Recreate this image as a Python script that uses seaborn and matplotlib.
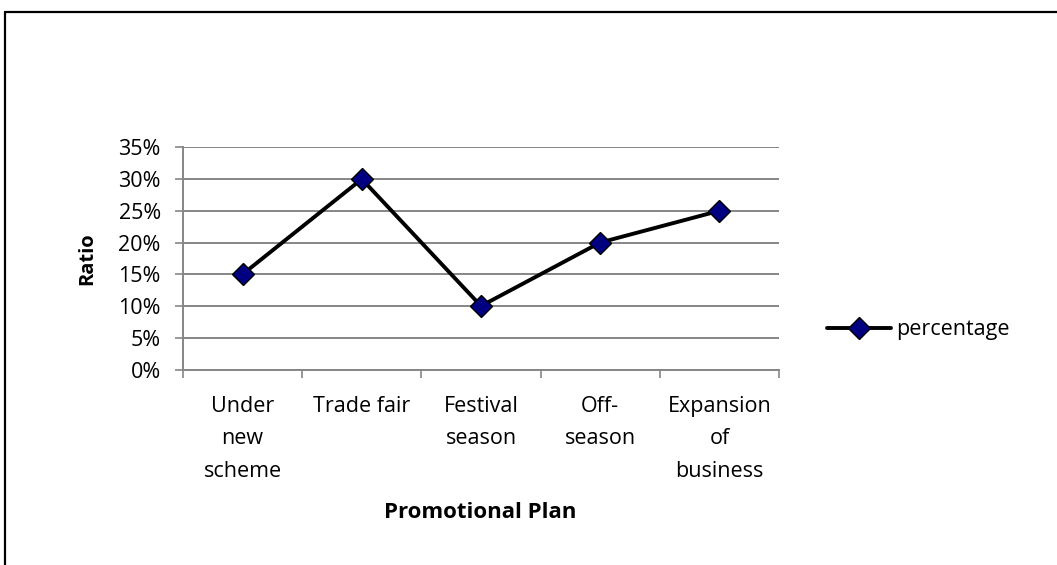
import matplotlib
matplotlib.use("Agg")
import matplotlib.pyplot as plt
from matplotlib.lines import Line2D
from matplotlib.ticker import FixedLocator, FuncFormatter
import seaborn as sns
import pandas as pd

# Promotional plan vs. share of respondents
plans = ["Under\nnew\nscheme", "Trade fair", "Festival\nseason", "Off-\nseason",
         "Expansion\nof\nbusiness"]
ratios = [0.15, 0.30, 0.10, 0.20, 0.25]
y_ticks = [0.00, 0.05, 0.10, 0.15, 0.20, 0.25, 0.30, 0.35]
series_name = "percentage"

df = pd.DataFrame({"plan": plans, "ratio": ratios, "series": series_name})

sns.set_theme(style="white")
plt.rcParams["font.family"] = ["Open Sans", "DejaVu Sans"]

GRID = "#868686"
FS = 15.5
W, H = 1057, 565
fig = plt.figure(figsize=(W / 100, H / 100), dpi=100)
ax = fig.add_axes([183 / W, 1 - 369.5 / H, 596 / W, 222.2 / H])

sns.lineplot(data=df, x="plan", y="ratio", hue="series", palette=["black"],
             marker="D", markersize=11, markerfacecolor="#000080",
             markeredgecolor="black", markeredgewidth=1.0,
             linewidth=2.8, sort=False, ax=ax, zorder=3)

n = len(plans)
ax.set_xlim(-0.5, n - 0.5)
ax.set_ylim(y_ticks[0], y_ticks[-1])

# y axis: percent ticks with horizontal gridlines
ax.yaxis.set_major_locator(FixedLocator(y_ticks))
ax.yaxis.set_major_formatter(FuncFormatter(lambda v, _: f"{round(v * 100)}%"))
ax.grid(axis="y", color=GRID, linewidth=1.4)
ax.grid(axis="x", visible=False)
ax.tick_params(axis="y", which="major", direction="out", length=6, width=1.2,
               color=GRID, pad=10, labelsize=FS, labelcolor="black", left=True)

# x axis: tick marks between categories, labels centered on categories
ax.set_xticks([i - 0.5 for i in range(n + 1)])
ax.set_xticklabels([""] * (n + 1))
ax.set_xticks(range(n), minor=True)
ax.set_xticklabels(plans, minor=True, fontsize=FS, linespacing=1.72,
                   multialignment="center")
ax.tick_params(axis="x", which="major", direction="out", length=6, width=1.2,
               color=GRID, bottom=True)
ax.tick_params(axis="x", which="minor", length=0, pad=19, labelcolor="black")

for side in ("top", "right"):
    ax.spines[side].set_visible(False)
for side in ("left", "bottom"):
    ax.spines[side].set_color(GRID)
    ax.spines[side].set_linewidth(1.4)

ax.set_xlabel("Promotional Plan", fontsize=16, fontweight="bold", color="black")
ax.set_ylabel("Ratio", fontsize=14.5, fontweight="bold", color="black")
ax.xaxis.set_label_coords((480 - 183) / 596, (369.5 - 512) / 222.2)
ax.xaxis.label.set_va("center")
ax.yaxis.set_label_coords((87 - 183) / 596, 0.5)
ax.yaxis.label.set_va("center")

leg = ax.legend(loc="center left", bbox_to_anchor=(818 / W, 1 - 330 / H),
                bbox_transform=fig.transFigure, frameon=False, fontsize=FS,
                handlelength=3.0, handletextpad=0.25, borderaxespad=0)
for t in leg.get_texts():
    t.set_color("black")

# chart frame (only its top and left edges fall inside the image)
fig.add_artist(Line2D([5 / W, 5 / W], [0, 1 - 11.5 / H], transform=fig.transFigure,
                      color="black", linewidth=1.6))
fig.add_artist(Line2D([5 / W, 1], [1 - 11.5 / H, 1 - 11.5 / H],
                      transform=fig.transFigure, color="black", linewidth=1.6))

fig.savefig("out.png", dpi=100, facecolor="white")
